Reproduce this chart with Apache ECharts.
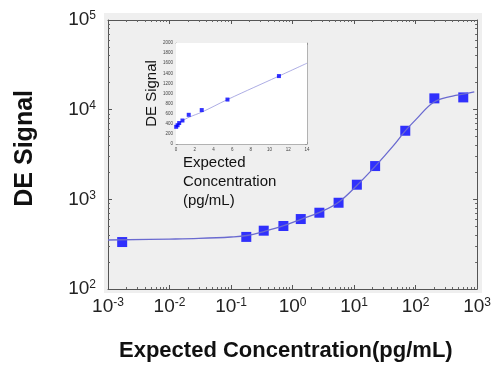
<!DOCTYPE html>
<html>
<head>
<meta charset="utf-8">
<script src="https://cdn.jsdelivr.net/npm/echarts@6/dist/echarts.min.js"></script>
<style>
  html, body { margin: 0; padding: 0; background: #fff; }
  #chart { width: 494px; height: 365px; }
</style>
</head>
<body>
<div id="chart"></div>
<script>
// main plot: measured points (pg/mL, DE signal)
const concs = [0.0017, 0.177, 0.34, 0.71, 1.36, 2.73, 5.6, 11.1, 22, 68, 202, 596]
const signals = [334, 381, 447, 504, 603, 709, 916, 1456, 2350, 5820, 13370, 13700]
// fitted curve
const fitX = [0.001, 0.01, 0.03, 0.1, 0.18, 0.35, 0.7, 1.4, 2.8, 5.6, 11, 22, 44, 68, 100, 200, 400, 600, 900]
const fitY = [352, 360, 366, 380, 395, 440, 505, 603, 720, 930, 1420, 2330, 4000, 5800, 7700, 12200, 14200, 14900, 15800]

// inset (linear axes)
const insetX = [0.02, 0.17, 0.34, 0.69, 1.36, 2.75, 5.5, 11.0]
const insetY = [340, 372, 415, 465, 578, 672, 880, 1345]
const insetFitX = [0, 0.3, 0.7, 1.4, 2.8, 5.5, 11, 14]
const insetFitY = [350, 400, 460, 530, 635, 880, 1345, 1600]

const chart = echarts.init(document.getElementById('chart'))

const pow10 = function(v) {
  const e = Math.round(Math.log10(v))
  return '{b|10}{s|' + (e < 0 ? '-' + Math.abs(e) : e) + '}'
}
const richLabel = {
  b: { fontSize: 19, color: '#222', fontFamily: 'Liberation Sans' },
  s: { fontSize: 12, color: '#222', fontFamily: 'Liberation Sans', verticalAlign: 'top', padding: [0, 0, 8, 0] }
}
const frameLine = { show: true, lineStyle: { color: '#555', width: 1 } }
const smallTick = { fontSize: 4.5, color: '#444', fontFamily: 'Liberation Sans', formatter: v => String(v) }

const option = {
  backgroundColor: '#fff',
  animation: false,
  graphic: [
    { type: 'rect', z: -10, silent: true, shape: { x: 104, y: 13, width: 378, height: 280 }, style: { fill: '#efefef' } },
    { type: 'text', left: 13, top: 90, rotation: Math.PI / 2, silent: true,
      style: { text: 'DE Signal', fontSize: 25, fontWeight: 'bold', fill: '#111', fontFamily: 'Liberation Sans' } },
    { type: 'text', left: 119, top: 340, silent: true,
      style: { text: 'Expected Concentration(pg/mL)', fontSize: 22, fontWeight: 'bold', fill: '#111', fontFamily: 'Liberation Sans' } },
    { type: 'text', left: 183, top: 153, silent: true, z: 10,
      style: { text: 'Expected\nConcentration\n(pg/mL)', fontSize: 15, lineHeight: 19, fill: '#111', fontFamily: 'Liberation Sans' } }
  ],
  grid: [
    { left: 108, right: 16, top: 20, bottom: 76 },
    { left: 176, top: 43, width: 131, height: 101, show: true, backgroundColor: '#fff', borderWidth: 0, z: 5 }
  ],
  xAxis: [
    {
      type: 'log', gridIndex: 0, min: 0.001, max: 1000, logBase: 10,
      axisLine: frameLine,
      axisTick: { show: true, inside: true, length: 4, lineStyle: { color: '#555' } },
      minorTick: { show: true, splitNumber: 9, length: 2, lineStyle: { color: '#666' } },
      splitLine: { show: false },
      axisLabel: { formatter: pow10, rich: richLabel, margin: 8 }
    },
    {
      type: 'log', gridIndex: 0, min: 0.001, max: 1000, position: 'top',
      axisLine: frameLine,
      axisTick: { show: true, inside: true, length: 4, lineStyle: { color: '#555' } },
      minorTick: { show: true, splitNumber: 9, length: 2, lineStyle: { color: '#666' } },
      splitLine: { show: false }, axisLabel: { show: false }
    },
    {
      type: 'value', gridIndex: 1, min: 0, max: 14, interval: 2,
      axisLine: { show: true, onZero: false, lineStyle: { color: '#888', width: 0.6 } },
      axisTick: { show: true, inside: true, length: 2, lineStyle: { color: '#888', width: 0.6 } },
      minorTick: { show: true, splitNumber: 2, length: 1, lineStyle: { color: '#999', width: 0.5 } },
      splitLine: { show: false },
      axisLabel: Object.assign({ margin: 3 }, smallTick)
    },
    {
      type: 'value', gridIndex: 1, min: 0, max: 14, interval: 2, position: 'top',
      axisLine: { show: true, onZero: false, lineStyle: { color: '#888', width: 0.6 } },
      axisTick: { show: true, inside: true, length: 2, lineStyle: { color: '#888', width: 0.6 } },
      splitLine: { show: false }, axisLabel: { show: false }
    }
  ],
  yAxis: [
    {
      type: 'log', gridIndex: 0, min: 100, max: 100000,
      axisLine: frameLine,
      axisTick: { show: true, inside: true, length: 4, lineStyle: { color: '#555' } },
      minorTick: { show: true, splitNumber: 9, length: 2, lineStyle: { color: '#666' } },
      splitLine: { show: false },
      axisLabel: { formatter: pow10, rich: richLabel, margin: 12 }
    },
    {
      type: 'log', gridIndex: 0, min: 100, max: 100000, position: 'right',
      axisLine: frameLine,
      axisTick: { show: true, inside: true, length: 4, lineStyle: { color: '#555' } },
      minorTick: { show: true, splitNumber: 9, length: 2, lineStyle: { color: '#666' } },
      splitLine: { show: false }, axisLabel: { show: false }
    },
    {
      type: 'value', gridIndex: 1, min: 0, max: 2000, interval: 200,
      axisLine: { show: true, onZero: false, lineStyle: { color: '#888', width: 0.6 } },
      axisTick: { show: true, inside: true, length: 2, lineStyle: { color: '#888', width: 0.6 } },
      splitLine: { show: false },
      axisLabel: Object.assign({ margin: 3 }, smallTick),
      name: 'DE Signal', nameLocation: 'middle', nameGap: 16, nameRotate: 90,
      nameTextStyle: { fontSize: 15, color: '#111', fontFamily: 'Liberation Sans' }
    },
    {
      type: 'value', gridIndex: 1, min: 0, max: 2000, interval: 200, position: 'right',
      axisLine: { show: true, onZero: false, lineStyle: { color: '#888', width: 0.6 } },
      axisTick: { show: true, inside: true, length: 2, lineStyle: { color: '#888', width: 0.6 } },
      splitLine: { show: false }, axisLabel: { show: false }
    }
  ],
  series: [
    {
      name: 'fit', type: 'line', xAxisIndex: 0, yAxisIndex: 0, smooth: 0.4, symbol: 'none',
      lineStyle: { color: '#6a6ad0', width: 1.3 },
      data: fitX.map((x, i) => [x, fitY[i]])
    },
    {
      name: 'data', type: 'scatter', xAxisIndex: 0, yAxisIndex: 0, symbol: 'rect', symbolSize: 10,
      itemStyle: { color: '#0000ff' },
      data: concs.map((x, i) => [x, signals[i]])
    },
    {
      name: 'inset fit', type: 'line', xAxisIndex: 2, yAxisIndex: 2, smooth: 0.4, symbol: 'none', z: 6,
      lineStyle: { color: '#8a8ad8', width: 0.7 },
      data: insetFitX.map((x, i) => [x, insetFitY[i]])
    },
    {
      name: 'inset data', type: 'scatter', xAxisIndex: 2, yAxisIndex: 2, symbol: 'rect', symbolSize: 4, z: 7,
      itemStyle: { color: '#0000ff' },
      data: insetX.map((x, i) => [x, insetY[i]])
    }
  ]
}
chart.setOption(option)
</script>
</body>
</html>
